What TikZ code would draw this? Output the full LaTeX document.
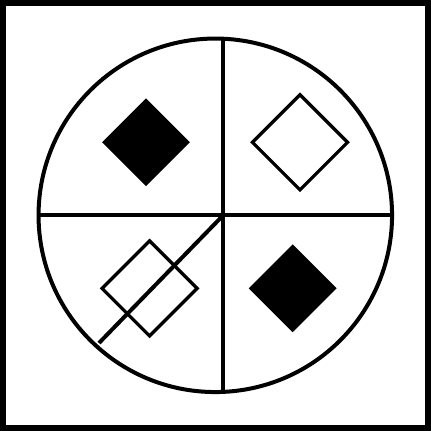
\documentclass[tikz,border=0pt]{standalone}
\usetikzlibrary{shapes.geometric, positioning}
\begin{document}
\begin{tikzpicture}[x=1pt, y=-1pt,
    frame/.style={draw, line width=5.5pt},
    wheel/.style={circle, draw, line width=4pt, minimum size=353.5pt, inner sep=0pt},
    divider/.style={line width=4pt},
    solid mark/.style={diamond, fill=black, aspect=1, minimum size=88pt, inner sep=0pt},
    hollow mark/.style={diamond, draw, line width=3.3pt, aspect=1, minimum size=96.5pt, inner sep=0pt}
]
\useasboundingbox (0,0) rectangle (431,431);

% 外框
\draw[frame] (2.8,2.8) rectangle (428.2,428.2);

% 圆盘
\node[wheel] (dial) at (215.3,215.3) {};

% 分隔线
\coordinate (vtop) at (223,38.6);
\coordinate (vbot) at (223,391.8);
\coordinate (hub) at (222,216.5);
\coordinate (tail) at (99,343);
\draw[divider] (dial.west) -- (dial.east);
\draw[divider] (vtop) -- (vbot);
\draw[divider] (hub) -- (tail);

% 菱形
\node[solid mark] (tl) at (146,142.3) {};
\node[hollow mark] (tr) at (300,142.3) {};
\node[hollow mark] (bl) at (149.6,288.4) {};
\node[solid mark] (br) at (292.7,288.3) {};
\end{tikzpicture}
\end{document}
